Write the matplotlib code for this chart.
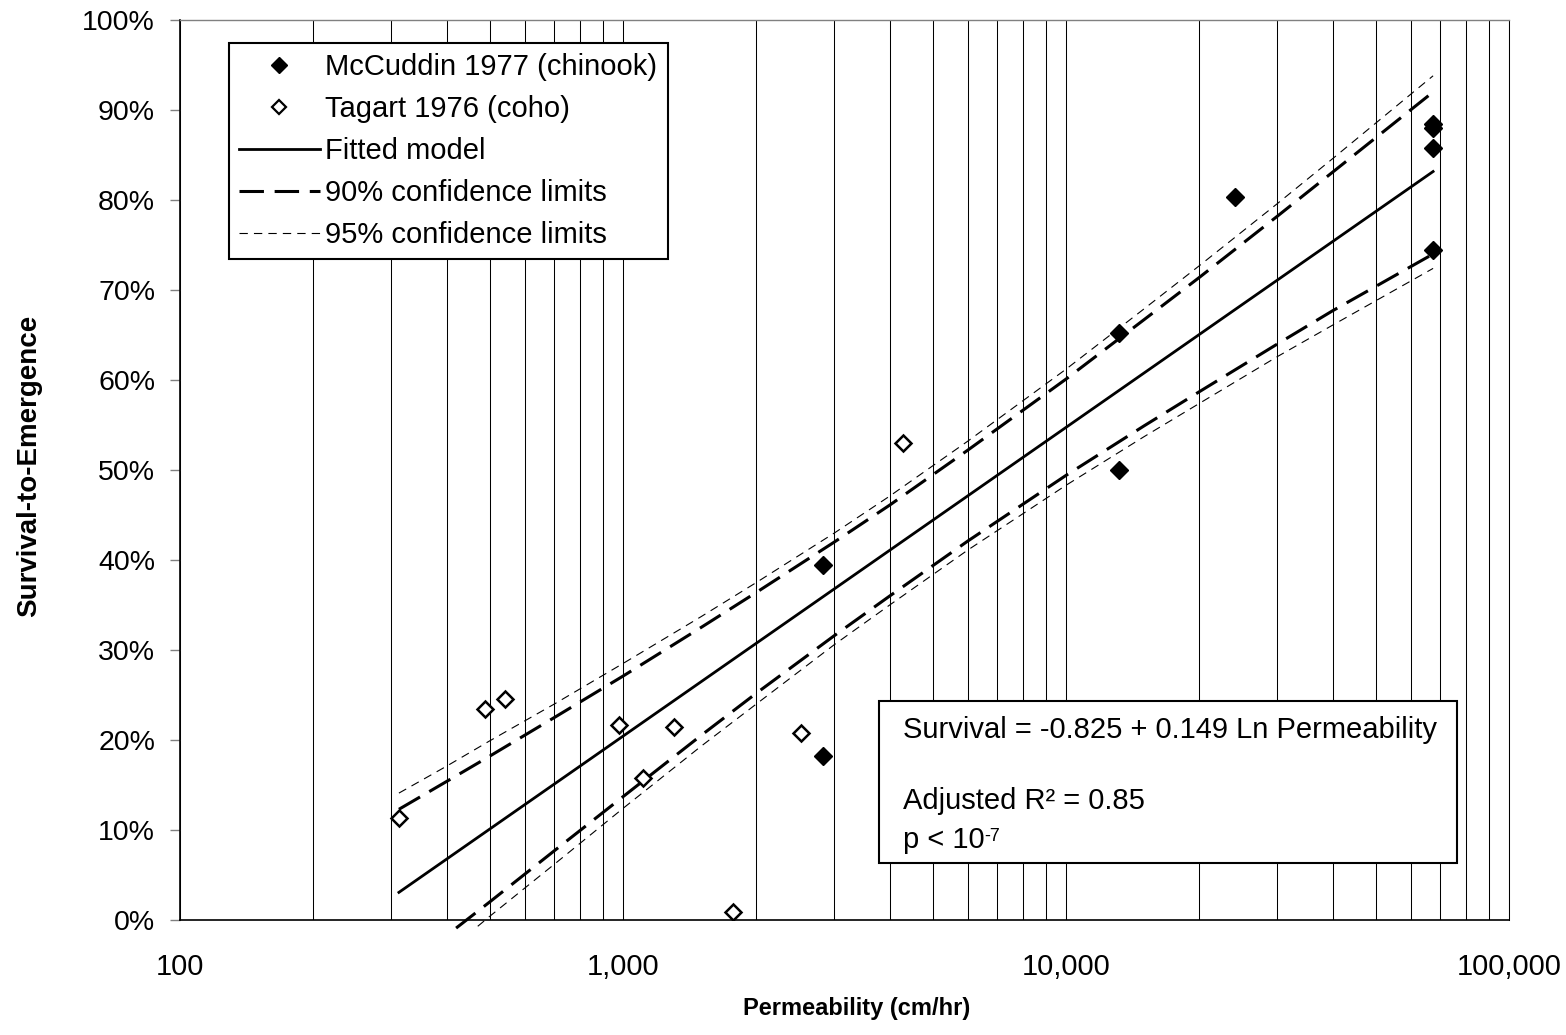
import matplotlib
matplotlib.use("Agg")
import matplotlib.pyplot as plt
import matplotlib.patches as patches
from matplotlib.ticker import LogLocator, FuncFormatter, PercentFormatter, NullFormatter, MultipleLocator
import numpy as np

plt.rcParams['font.family'] = ['Liberation Sans', 'DejaVu Sans']

# McCuddin 1977 (chinook) observations
mccuddin_perm = [2830, 2830, 13200, 13200, 24100, 67400, 67400, 67400, 67400]
mccuddin_surv = [0.395, 0.182, 0.652, 0.500, 0.803, 0.885, 0.880, 0.858, 0.745]

# Tagart 1976 (coho) observations
tagart_perm = [312, 488, 541, 980, 1110, 1304, 1771, 2523, 4285]
tagart_surv = [0.113, 0.234, 0.246, 0.217, 0.158, 0.214, 0.009, 0.208, 0.530]

# fitted model: Survival = a + b Ln Permeability
fit_a = -0.825
fit_b = 0.149
fit_range = [312, 67400]

# confidence limits
band_perm = [312, 400, 500, 700, 1000, 1500, 2000, 3000, 4000, 6000,
             10000, 15000, 20000, 30000, 40000, 67400]
upper90 = [0.123, 0.154, 0.182, 0.225, 0.271, 0.325, 0.364, 0.420, 0.461, 0.522,
           0.601, 0.667, 0.714, 0.782, 0.831, 0.920]
upper95 = [0.141, 0.171, 0.199, 0.240, 0.285, 0.337, 0.375, 0.430, 0.471, 0.532,
           0.612, 0.679, 0.727, 0.796, 0.846, 0.938]
lower90_perm = [420, 500, 700, 1000, 1500, 2000, 3000, 4000, 6000,
                10000, 15000, 20000, 30000, 40000, 67400]
lower90 = [-0.009, 0.020, 0.077, 0.137, 0.205, 0.252, 0.316, 0.360, 0.421,
           0.494, 0.549, 0.587, 0.640, 0.677, 0.740]
lower95_perm = [470, 500, 700, 1000, 1500, 2000, 3000, 4000, 6000,
                10000, 15000, 20000, 30000, 40000, 67400]
lower95 = [-0.007, 0.004, 0.062, 0.124, 0.193, 0.240, 0.306, 0.350, 0.411,
           0.483, 0.537, 0.574, 0.626, 0.661, 0.724]

fig = plt.figure(figsize=(15.66, 10.35), dpi=100)
ax = fig.add_axes([180 / 1566, 1 - 920 / 1035, 1329 / 1566, 900 / 1035])

ax.set_xscale('log')
ax.set_xlim(100, 100000)
ax.set_ylim(0, 1)

# vertical grid only
ax.xaxis.set_major_locator(LogLocator(base=10))
ax.xaxis.set_minor_locator(LogLocator(base=10, subs=np.arange(2, 10)))
ax.xaxis.set_minor_formatter(NullFormatter())
ax.xaxis.set_major_formatter(FuncFormatter(lambda v, p: f"{v:,.0f}"))
ax.grid(True, which='both', axis='x', color='black', linewidth=0.75, zorder=0)
ax.tick_params(axis='x', which='both', length=0, pad=24, labelsize=21)

ax.yaxis.set_major_locator(MultipleLocator(0.1))
ax.yaxis.set_major_formatter(PercentFormatter(1.0, decimals=0))
ax.tick_params(axis='y', which='major', length=7, width=1, color='#808080',
               pad=11, labelsize=20.5)

ax.spines['left'].set_linewidth(1.2)
ax.spines['bottom'].set_linewidth(1.2)
ax.spines['top'].set_color('#808080')
ax.spines['top'].set_linewidth(1)
ax.spines['right'].set_linewidth(0.75)

fit_x = np.array(fit_range)
fit_y = fit_a + fit_b * np.log(fit_x)

ax.plot(band_perm, upper95, color='black', lw=0.8, dashes=(7.5, 5.5), zorder=3)
ax.plot(lower95_perm, lower95, color='black', lw=0.8, dashes=(7.5, 5.5), zorder=3, clip_on=False)
ax.plot(band_perm, upper90, color='black', lw=2.2, dashes=(8, 3.5), zorder=3)
ax.plot(lower90_perm, lower90, color='black', lw=2.2, dashes=(8, 3.5), zorder=3, clip_on=False)
ax.plot(fit_x, fit_y, color='black', lw=2.0, zorder=3)

ax.plot(mccuddin_perm, mccuddin_surv, linestyle='none', marker='D', ms=9.5,
        color='black', zorder=4)
ax.plot(tagart_perm, tagart_surv, linestyle='none', marker='D', ms=8.5,
        markerfacecolor='white', markeredgecolor='black', markeredgewidth=1.8, zorder=4)

# legend built from proxy handles so the order matches the key
h1, = ax.plot([], [], linestyle='none', marker='D', ms=8.5, color='black')
h2, = ax.plot([], [], linestyle='none', marker='D', ms=7.5, markerfacecolor='white',
              markeredgecolor='black', markeredgewidth=1.6)
h3, = ax.plot([], [], color='black', lw=2.0)
h4, = ax.plot([], [], color='black', lw=2.2, dashes=(8, 3.5))
h5, = ax.plot([], [], color='black', lw=0.8, dashes=(7.5, 5.5))
leg = ax.legend([h1, h2, h3, h4, h5],
                ['McCuddin 1977 (chinook)', 'Tagart 1976 (coho)', 'Fitted model',
                 '90% confidence limits', '95% confidence limits'],
                loc='upper left', bbox_to_anchor=(0.037, 0.975), fontsize=21,
                frameon=True, fancybox=False, framealpha=1, edgecolor='black',
                handlelength=2.75, handletextpad=0.2, borderpad=0.35,
                labelspacing=0.48, borderaxespad=0)
leg.get_frame().set_linewidth(1.5)
leg.set_zorder(6)

# regression summary box
box = patches.Rectangle((0.526, 0.0633), 0.435, 0.18, transform=ax.transAxes,
                        facecolor='white', edgecolor='black', linewidth=1.5, zorder=6)
ax.add_patch(box)
ax.text(0.544, 0.211, 'Survival = -0.825 + 0.149 Ln Permeability', transform=ax.transAxes,
        fontsize=21, va='center', ha='left', zorder=7)
ax.text(0.544, 0.132, 'Adjusted R\u00b2 = 0.85', transform=ax.transAxes,
        fontsize=21, va='center', ha='left', zorder=7)
p_txt = ax.text(0.544, 0.089, 'p < 10', transform=ax.transAxes,
                fontsize=21, va='center', ha='left', zorder=7)
ax.annotate('-7', xy=(1.0, 0.92), xycoords=p_txt, fontsize=13,
            va='top', ha='left', zorder=7)

ax.set_xlabel('Permeability (cm/hr)', fontsize=17, fontweight='bold')
ax.xaxis.set_label_coords(0.509, -0.0856)
ax.set_ylabel('Survival-to-Emergence', fontsize=20, fontweight='bold')
ax.yaxis.set_label_coords(-0.1038, 0.505)

fig.savefig('out.png', dpi=100)
